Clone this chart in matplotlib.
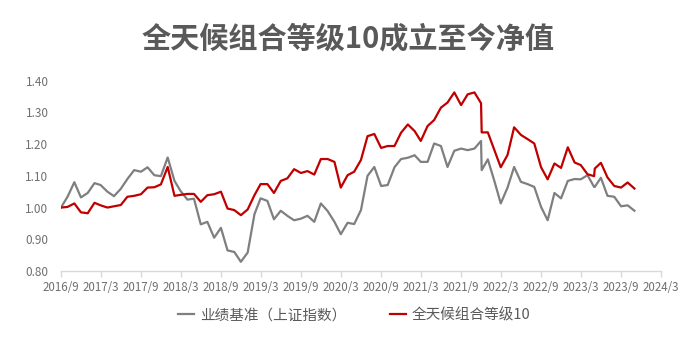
import matplotlib
matplotlib.use("Agg")
import matplotlib.pyplot as plt
import matplotlib.dates as mdates
import matplotlib.ticker as mticker
import pandas as pd

plt.rcParams['font.family'] = ['Noto Sans CJK SC', 'DejaVu Sans']

# Valuation dates: month starts, plus two intra-month re-valuations
month_starts = pd.date_range('2016-09-01', '2023-11-01', freq='MS')
extra_dates = pd.to_datetime(['2021-12-04', '2023-05-04'])
dates = month_starts.append(extra_dates).sort_values()

benchmark_name = '业绩基准（上证指数）'
portfolio_name = '全天候组合等级10'

benchmark = [
    1.000, 1.034, 1.080, 1.032, 1.046, 1.077, 1.071, 1.050, 1.036, 1.059,
    1.090, 1.118, 1.113, 1.127, 1.102, 1.099, 1.158, 1.084, 1.052, 1.025,
    1.028, 0.947, 0.955, 0.905, 0.936, 0.865, 0.860, 0.829, 0.858, 0.979,
    1.029, 1.021, 0.963, 0.990, 0.974, 0.960, 0.965, 0.974, 0.955, 1.013,
    0.989, 0.955, 0.916, 0.952, 0.948, 0.992, 1.100, 1.128, 1.068, 1.071,
    1.127, 1.153, 1.157, 1.165, 1.144, 1.144, 1.202, 1.194, 1.128, 1.179,
    1.186, 1.181, 1.186, 1.210, 1.118, 1.152, 1.081, 1.013, 1.063, 1.128,
    1.081, 1.074, 1.065, 1.002, 0.960, 1.046, 1.029, 1.084, 1.090, 1.089,
    1.102, 1.065, 1.065, 1.094, 1.037, 1.034, 1.004, 1.007, 0.990,
]

portfolio = [
    1.000, 1.002, 1.013, 0.985, 0.982, 1.015, 1.007, 1.000, 1.004, 1.008,
    1.034, 1.037, 1.042, 1.063, 1.064, 1.073, 1.128, 1.037, 1.040, 1.043,
    1.043, 1.018, 1.039, 1.042, 1.050, 0.997, 0.992, 0.976, 0.994, 1.039,
    1.074, 1.074, 1.046, 1.084, 1.092, 1.121, 1.109, 1.115, 1.104, 1.153,
    1.153, 1.144, 1.063, 1.102, 1.113, 1.150, 1.225, 1.232, 1.188, 1.194,
    1.194, 1.236, 1.262, 1.241, 1.210, 1.257, 1.276, 1.315, 1.331, 1.363,
    1.323, 1.357, 1.363, 1.329, 1.237, 1.237, 1.179, 1.127, 1.166, 1.253,
    1.229, 1.216, 1.202, 1.127, 1.089, 1.139, 1.125, 1.190, 1.142, 1.134,
    1.105, 1.099, 1.123, 1.141, 1.095, 1.068, 1.063, 1.079, 1.060,
]

y_ticks = [0.80, 0.90, 1.00, 1.10, 1.20, 1.30, 1.40]

TEXT = '#595959'
TICK_TEXT = '#6f6f6f'
GRAY = '#7f7f7f'
RED = '#c00000'

fig = plt.figure(figsize=(7.0, 3.39), dpi=100)
ax = fig.add_axes([0.0871, 0.2006, 0.8571, 0.5614])

ax.plot(dates, benchmark, color=GRAY, lw=1.6, label=benchmark_name,
        solid_joinstyle='round')
ax.plot(dates, portfolio, color=RED, lw=1.6, label=portfolio_name,
        solid_joinstyle='round')

ax.set_xlim(pd.Timestamp('2016-09-01'), pd.Timestamp('2024-03-01'))
ax.set_ylim(y_ticks[0], y_ticks[-1])
ax.set_yticks(y_ticks)
ax.yaxis.set_major_formatter(mticker.FormatStrFormatter('%.2f'))

ax.xaxis.set_major_locator(mdates.MonthLocator(bymonth=(3, 9)))
ax.xaxis.set_major_formatter(
    mticker.FuncFormatter(lambda v, _: f"{mdates.num2date(v).year}/{mdates.num2date(v).month}"))

for side in ('left', 'right', 'top'):
    ax.spines[side].set_visible(False)
ax.spines['bottom'].set_color('#d9d9d9')
ax.spines['bottom'].set_linewidth(1.0)

ax.tick_params(axis='y', length=0, pad=9, labelsize=8.5, labelcolor=TICK_TEXT)
ax.tick_params(axis='x', length=4, width=1.0, color='#d9d9d9', pad=3,
               labelsize=8.3, labelcolor=TICK_TEXT)

fig.text(0.497, 0.888, '全天候组合等级10成立至今净值', ha='center', va='center',
         fontsize=21, fontweight='bold', color=TEXT)

fig.legend(loc='center', bbox_to_anchor=(0.506, 0.071), ncol=2, frameon=False,
           fontsize=10.5, labelcolor=TEXT, handlelength=1.1, handletextpad=0.4,
           columnspacing=3.0)

fig.savefig('out.png', dpi=100)
